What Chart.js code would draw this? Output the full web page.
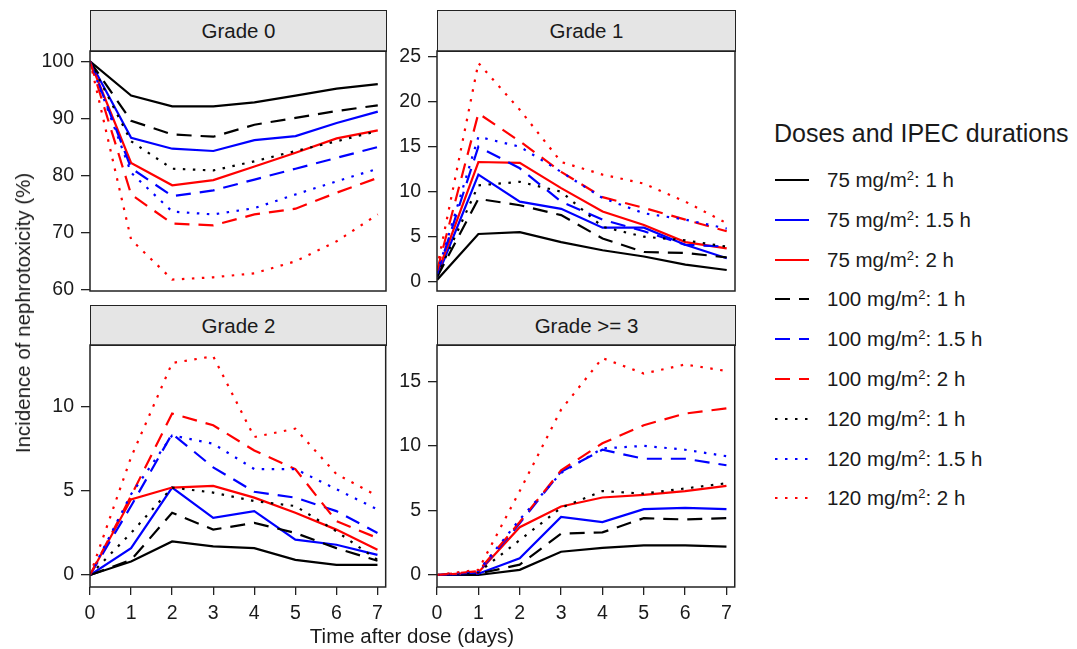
<!DOCTYPE html>
<html>
<head>
<meta charset="utf-8">
<script src="https://cdn.jsdelivr.net/npm/chart.js@4.4.0/dist/chart.umd.min.js"></script>
<style>
  body { margin: 0; background: #fff; font-family: "Liberation Sans", Arial, sans-serif; color: #1a1a1a; }
  #wrap { position: relative; width: 1077px; height: 649px; overflow: hidden; }
  canvas { position: absolute; }
  .strip { position: absolute; box-sizing: border-box; background: #e5e5e5; border: 1.5px solid #222;
           font-size: 20.5px; text-align: center; }
  .axis-title { position: absolute; font-size: 20.5px; white-space: nowrap; }
  #legend-title { position: absolute; left: 774px; top: 118px; font-size: 25px; line-height: 30px; white-space: nowrap; }
  .leg-row { position: absolute; left: 775px; height: 24px; font-size: 20.5px; white-space: nowrap; }
  .leg-row svg { position: absolute; left: 0; top: 9px; }
  .leg-row span { position: absolute; left: 52px; top: 0; line-height: 24px; }
  sup { font-size: 13px; vertical-align: 7px; line-height: 0; }
</style>
</head>
<body>
<div id="wrap">
  <div class="strip" style="left:90px;top:10px;width:297px;height:42px;line-height:40px;">Grade 0</div>
  <div class="strip" style="left:437px;top:10px;width:299px;height:42px;line-height:40px;">Grade 1</div>
  <div class="strip" style="left:90px;top:305px;width:297px;height:41px;line-height:39px;">Grade 2</div>
  <div class="strip" style="left:437px;top:305px;width:299px;height:41px;line-height:39px;">Grade &gt;= 3</div>

  <canvas id="g0" width="390" height="280" style="left:0px;top:31px;"></canvas>
  <canvas id="g1" width="349" height="280" style="left:390px;top:31px;"></canvas>
  <canvas id="g2" width="390" height="322" style="left:0px;top:325px;"></canvas>
  <canvas id="g3" width="349" height="322" style="left:390px;top:325px;"></canvas>

  <div class="axis-title" style="left:23px;top:313px;transform:translate(-50%,-50%) rotate(-90deg);">Incidence of nephrotoxicity (%)</div>
  <div class="axis-title" style="left:412px;top:636px;transform:translate(-50%,-50%);">Time after dose (days)</div>

  <div id="legend-title">Doses and IPEC durations</div>
  <div id="legend"></div>
</div>

<script>
// ------------------ DATA ------------------
const days = [0, 1, 2, 3, 4, 5, 6, 7];

const seriesLabels = [
  "75 mg/m²: 1 h", "75 mg/m²: 1.5 h", "75 mg/m²: 2 h",
  "100 mg/m²: 1 h", "100 mg/m²: 1.5 h", "100 mg/m²: 2 h",
  "120 mg/m²: 1 h", "120 mg/m²: 1.5 h", "120 mg/m²: 2 h"
];

// rows follow seriesLabels order
const grade0 = [
  [100, 94.0, 92.1, 92.1, 92.8, 94.0, 95.2, 96.0],
  [100, 86.6, 84.7, 84.3, 86.2, 86.9, 89.2, 91.2],
  [100, 82.2, 78.3, 79.2, 81.6, 84.0, 86.5, 87.9],
  [100, 89.6, 87.2, 86.8, 88.9, 90.1, 91.3, 92.3],
  [100, 81.3, 76.4, 77.4, 79.3, 81.2, 83.1, 85.0],
  [100, 76.7, 71.6, 71.3, 73.2, 74.2, 77.0, 79.6],
  [100, 86.0, 81.2, 80.9, 82.5, 84.3, 86.0, 87.8],
  [100, 80.5, 73.7, 73.2, 74.3, 76.7, 79.0, 81.2],
  [100, 68.8, 61.8, 62.2, 62.9, 65.0, 68.5, 73.2]
];

const grade1 = [
  [0.2, 5.3, 5.5, 4.4, 3.5, 2.8, 1.9, 1.3],
  [0.5, 11.9, 8.9, 8.1, 6.0, 6.0, 4.1, 2.6],
  [0.8, 13.3, 13.2, 10.4, 7.8, 6.3, 4.4, 3.7],
  [0.5, 9.2, 8.5, 7.4, 4.8, 3.3, 3.2, 2.7],
  [0.8, 15.0, 12.6, 8.9, 6.9, 5.6, 4.1, 3.9],
  [1.2, 18.7, 15.6, 12.2, 9.4, 8.2, 6.9, 5.6],
  [0.6, 10.7, 11.1, 10.0, 6.1, 5.0, 4.6, 3.9],
  [0.9, 16.1, 15.0, 12.2, 9.3, 7.6, 6.9, 5.9],
  [1.5, 24.3, 19.1, 13.3, 11.9, 10.9, 8.9, 6.5]
];

const grade2 = [
  [0, 0.8, 2.0, 1.7, 1.6, 0.9, 0.6, 0.6],
  [0, 1.6, 5.2, 3.4, 3.8, 2.1, 1.8, 1.2],
  [0, 4.5, 5.2, 5.3, 4.6, 3.7, 2.7, 1.5],
  [0, 0.9, 3.7, 2.7, 3.1, 2.5, 1.6, 0.85],
  [0, 4.1, 8.4, 6.4, 4.95, 4.6, 3.8, 2.5],
  [0, 4.7, 9.6, 8.9, 7.4, 6.3, 3.2, 2.2],
  [0, 2.5, 5.2, 4.9, 4.4, 4.1, 2.6, 0.9],
  [0, 4.8, 8.3, 7.8, 6.3, 6.3, 5.1, 3.9],
  [0, 7.0, 12.6, 13.0, 8.2, 8.7, 6.0, 4.7]
];

const grade3 = [
  [0, 0.0, 0.4, 1.8, 2.1, 2.3, 2.3, 2.2],
  [0, 0.1, 1.3, 4.5, 4.1, 5.1, 5.2, 5.1],
  [0, 0.2, 3.7, 5.3, 6.0, 6.2, 6.5, 6.9],
  [0, 0.1, 0.8, 3.2, 3.3, 4.4, 4.3, 4.4],
  [0, 0.2, 4.0, 8.0, 9.7, 9.0, 9.0, 8.5],
  [0, 0.3, 4.1, 8.1, 10.2, 11.6, 12.5, 12.9],
  [0, 0.2, 2.7, 5.2, 6.5, 6.3, 6.7, 7.1],
  [0, 0.3, 4.3, 7.9, 9.8, 10.0, 9.7, 9.2],
  [0, 0.4, 6.5, 12.8, 16.8, 15.6, 16.3, 15.8]
];

const yTicks0 = [60, 70, 80, 90, 100];
const yTicks1 = [0, 5, 10, 15, 20, 25];
const yTicks2 = [0, 5, 10];
const yTicks3 = [0, 5, 10, 15];

// ------------------ STYLES ------------------
const colors = ["#000000", "#0000ff", "#ff0000"];
const dashes = [[], [15, 9], [2.5, 7.5]];
const seriesColors = seriesLabels.map((_, i) => colors[i % 3]);
const seriesDashes = seriesLabels.map((_, i) => dashes[Math.floor(i / 3)]);

const FONT = { family: '"Liberation Sans", Arial, sans-serif', size: 19.5 };

// box round every panel
const frame = {
  id: "frame",
  afterDraw(chart) {
    const a = chart.chartArea, ctx = chart.ctx;
    ctx.save();
    ctx.strokeStyle = "#222";
    ctx.lineWidth = 1.5;
    ctx.strokeRect(a.left, a.top, a.right - a.left, a.bottom - a.top);
    ctx.restore();
  }
};

function makeDatasets(rows) {
  return rows.map((vals, i) => ({
    label: seriesLabels[i],
    data: vals.map((v, k) => ({ x: days[k], y: v })),
    borderColor: seriesColors[i],
    borderDash: seriesDashes[i],
    borderWidth: 2.2,
    borderCapStyle: "butt",
    pointRadius: 0,
    tension: 0,
    fill: false,
    order: rows.length - i
  }));
}

function makePanel(id, rows, yMin, yMax, yTicks, yWidth, showX) {
  new Chart(document.getElementById(id), {
    type: "line",
    data: { datasets: makeDatasets(rows) },
    options: {
      responsive: false,
      animation: false,
      layout: { padding: { top: 20, right: 4, bottom: showX ? 0 : 20, left: 0 } },
      plugins: { legend: { display: false }, tooltip: { enabled: false } },
      scales: {
        x: {
          type: "linear",
          min: 0,
          max: 7.2,
          display: showX,
          afterBuildTicks: s => { s.ticks = days.map(v => ({ value: v })); },
          afterFit: s => { s.height = showX ? 60 : 0; },
          grid: { drawOnChartArea: false, drawTicks: true, tickLength: 8, color: "#222", lineWidth: 1.3 },
          border: { display: false },
          ticks: { font: FONT, color: "#1a1a1a", padding: 7, maxRotation: 0 }
        },
        y: {
          type: "linear",
          min: yMin,
          max: yMax,
          afterBuildTicks: s => { s.ticks = yTicks.map(v => ({ value: v })); },
          afterFit: s => { s.width = yWidth; },
          grid: { drawOnChartArea: false, drawTicks: true, tickLength: 9, color: "#222", lineWidth: 1.3 },
          border: { display: false },
          ticks: { font: FONT, color: "#1a1a1a", padding: 7 }
        }
      }
    },
    plugins: [frame]
  });
}

makePanel("g0", grade0, 59.8, 101.8, yTicks0, 90, false);
makePanel("g1", grade1, -1.03, 25.63, yTicks1, 47, false);
makePanel("g2", grade2, -0.71, 13.67, yTicks2, 90, true);
makePanel("g3", grade3, -0.93, 17.81, yTicks3, 47, true);

// ------------------ LEGEND ------------------
const legend = document.getElementById("legend");
seriesLabels.forEach((lab, i) => {
  const row = document.createElement("div");
  row.className = "leg-row";
  row.style.top = (180 + 39.8 * i - 12) + "px";
  const dash = seriesDashes[i].join(" ");
  row.innerHTML = `
    <svg width="34" height="6"><line x1="0" y1="3" x2="34" y2="3" stroke="${seriesColors[i]}"
      stroke-width="2.2" ${dash ? `stroke-dasharray="${dash}"` : ""}/></svg>
    <span>${lab.replace("²", "<sup>2</sup>")}</span>`;
  legend.appendChild(row);
});
</script>
</body>
</html>
